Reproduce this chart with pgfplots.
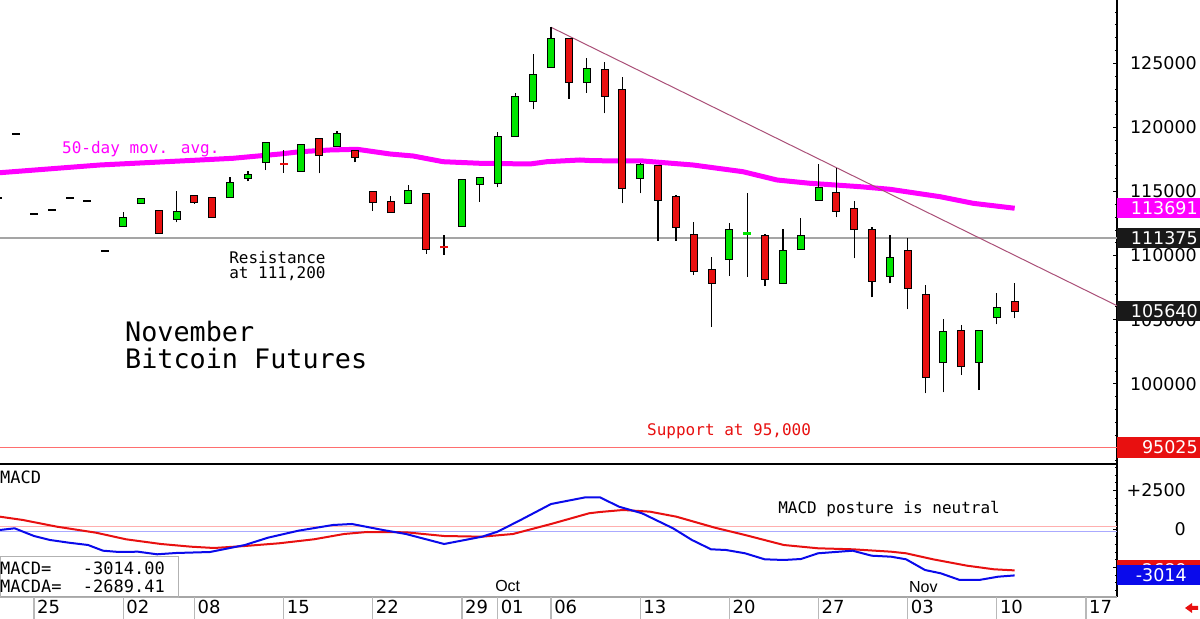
\documentclass[border=0pt]{standalone}
\usepackage{pgfplots}
\pgfplotsset{compat=1.18}
\usepackage{pgfplotstable}
\usepackage{fontspec}
\setmainfont{DejaVu Sans}
\newfontfamily\mono{DejaVu Sans Mono}
\newfontfamily\lib{Liberation Sans}
\definecolor{cgreen}{RGB}{0,228,0}
\definecolor{cred}{RGB}{232,16,16}
\definecolor{cmag}{RGB}{255,0,255}
\definecolor{ctrend}{RGB}{170,80,120}
\definecolor{cblue}{RGB}{10,10,235}
\definecolor{csup}{RGB}{255,110,110}
\definecolor{cres}{RGB}{165,165,165}
\definecolor{cboxblack}{RGB}{25,25,25}

% flat days (open=high=low=close)
\pgfplotstableread{
i v
-2 114514
-1 119484
0 113242
1 113554
2 114491
3 114257
4 110355
}\flattab

\pgfplotstableread{
i o h l c
5 112329 113375 112329 112954
6 114077 114389 114077 114389
8 112852 115060 112595 113375
11 114545 116106 114545 115638
12 116051 116620 115794 116308
13 117276 118860 116675 118758
15 116620 118704 116620 118626
17 118571 119718 118571 119461
21 114077 115505 114077 115037
24 112329 115895 112329 115895
25 115560 116028 114202 116028
26 115684 119617 115326 119227
27 119351 122706 119351 122347
28 122035 125702 121411 124064
29 124688 127809 124688 126872
31 123518 125437 122706 124532
34 116028 117198 114857 117065
39 109708 112517 108405 111994
42 107836 112049 107836 110332
43 110488 112907 110488 111526
44 114335 117120 114335 115247
48 108405 111604 107836 109833
51 101672 105027 99331 104059
53 101719 104114 99511 104114
54 105183 107055 104637 105908
}\greentab

\pgfplotstableread{
i o h l c
7 113500 113500 111737 111783
9 114623 114700 114046 114155
10 114514 114514 112985 112985
16 119070 119100 116418 117846
18 118181 118181 117276 117666
19 114935 114935 113500 114202
20 114202 114647 113375 113375
22 114803 114803 110122 110512
30 126872 126872 122215 123518
32 124477 125125 121099 122472
33 122917 123908 114077 115247
35 116987 116987 111159 114335
36 114545 114725 111159 112205
37 111604 112642 108483 108819
38 108873 109911 104426 107883
41 111526 111659 107625 108194
45 114904 116808 112985 113476
46 113609 114280 109786 112049
47 111994 112205 106743 108038
49 110355 111347 105807 107492
50 106923 107703 99253 100549
52 104114 104582 100681 101383
55 106400 107883 105105 105640
}\redtab

\pgfplotstableread{
i o h l c
14 117143 118236 116465 117143
23 110644 111604 110044 110644
}\dojired

\pgfplotstableread{
i o h l c
40 111737 114857 108350 111737
}\dojigreen

\pgfplotstableread{
i v
-1.91 116465
3.70 117066
9.31 117456
11.16 117589
13.8 117924
14.92 118103
16.6 118236
18.12 118291
19.97 117924
21.26 117768
22.94 117323
25.01 117198
27.82 117144
28.77 117323
30.62 117456
31.35 117401
34.16 117378
36.96 117066
39.76 116543
41.67 115896
43.52 115638
46.33 115373
48.01 115170
50.81 114593
52.66 114078
55 113691
}\matab

\pgfplotstableread{
i v
-1.91 -65
-1.09 45
0 -455
0.9 -714
1.96 -890
3.03 -1039
3.87 -1409
4.77 -1494
5.83 -1474
6.9 -1643
7.96 -1559
9.87 -1494
11.83 -1039
13.12 -565
14.83 -110
16.77 260
17.83 325
19.57 -65
20.86 -325
23.0 -974
25.13 -500
26.0 -175
27.29 584
29.0 1623
30.93 2058
31.74 2058
32.81 1448
34.1 1020
35.84 45
36.9 -714
37.97 -1318
38.81 -1364
39.88 -1578
40.98 -1968
42.05 -2013
43.02 -1948
43.97 -1578
45.91 -1409
46.98 -1734
48.07 -1799
48.91 -1968
49.97 -2663
50.85 -2877
51.92 -3312
53.0 -3312
54.07 -3098
55 -3014
}\macdtab

\pgfplotstableread{
i v
-1.91 799
-0.62 584
1.29 149
3.48 -240
5.16 -669
7.12 -974
8.81 -1149
10.1 -1234
11.83 -1104
13.74 -929
15.7 -669
17.39 -325
18.68 -195
20.86 -214
23.0 -455
25.13 -500
26.86 -325
29.0 325
31.13 1020
31.74 1104
33.03 1234
34.55 1124
36.03 799
38.19 84
39.88 -390
42.05 -1039
43.97 -1253
45.91 -1318
48.07 -1474
48.91 -1578
50.42 -1968
52.33 -2383
53.84 -2617
55 -2689
}\signaltab

\pgfplotsset{
  wick/.style={draw=none, mark=none, forget plot,
    error bars/.cd, y dir=plus, y explicit, error mark=none,
    error bar style={draw=black, line width=1.3bp}},
  body/.style={draw=none, mark=none, forget plot,
    error bars/.cd, y dir=plus, y explicit, error mark=none,
    error bar style={draw=#1, line width=8bp}},
  fillbody/.style={draw=none, mark=none, forget plot,
    error bars/.cd, y dir=plus, y explicit, error mark=none,
    error bar style={draw=#1, line width=6bp}},
}

\begin{document}
\begin{tikzpicture}
\useasboundingbox (0,0) rectangle (1200bp,619bp);
\fill[white] (0,0) rectangle (1200bp,619bp);

% ---------------- price panel ----------------
\begin{axis}[
  at={(0,155bp)}, anchor=south west, scale only axis,
  width=1117bp, height=464bp,
  xmin=-1.907, xmax=60.74, ymin=93738, ymax=129939,
  axis x line=none, xtick=\empty,
  axis y line=right, axis line style={-, black, line width=1.2bp},
  clip=false,
  ytick={95000,100000,105000,110000,115000,120000,125000},
  yticklabels={95000,100000,105000,110000,115000,120000,125000},
  minor ytick={94000,95000,...,129000},
  ytick align=inside, major tick length=4.5bp, minor tick length=2.5bp,
  tick style={black, line width=0.8bp},
  yticklabel style={anchor=east, inner sep=0pt, xshift=80bp,
    font=\fontsize{17.5bp}{20bp}\selectfont},
]
% support & resistance
\addplot[csup, line width=1.5bp, forget plot] coordinates {(-1.907,95025) (60.74,95025)};
\addplot[cres, line width=1.5bp, forget plot] coordinates {(-1.907,111375) (60.74,111375)};
% 50-day moving average
\addplot[cmag, line width=5bp, forget plot] table[x=i, y=v] {\matab};
% trend line
\addplot[ctrend, line width=1bp, forget plot] coordinates {(29,127809) (60.74,106089)};

% wicks
\addplot[wick] table[x=i, y=l, y error plus expr=\thisrow{h}-\thisrow{l}] {\greentab};
\addplot[wick] table[x=i, y=l, y error plus expr=\thisrow{h}-\thisrow{l}] {\redtab};
\addplot[wick] table[x=i, y=l, y error plus expr=\thisrow{h}-\thisrow{l}] {\dojired};
\addplot[wick] table[x=i, y=l, y error plus expr=\thisrow{h}-\thisrow{l}] {\dojigreen};
% flat days
\addplot[body=black] table[x=i, y expr=\thisrow{v}-70, y error plus expr=140] {\flattab};
% bodies
\addplot[body=black] table[x=i, y expr=\thisrow{o}-70, y error plus expr=\thisrow{c}-\thisrow{o}+140] {\greentab};
\addplot[fillbody=cgreen] table[x=i, y=o, y error plus expr=\thisrow{c}-\thisrow{o}] {\greentab};
\addplot[body=black] table[x=i, y expr=\thisrow{c}-70, y error plus expr=\thisrow{o}-\thisrow{c}+140] {\redtab};
\addplot[fillbody=cred] table[x=i, y=c, y error plus expr=\thisrow{o}-\thisrow{c}] {\redtab};
% dojis
\addplot[body=cred] table[x=i, y expr=\thisrow{c}-80, y error plus expr=160] {\dojired};
\addplot[body=cgreen] table[x=i, y expr=\thisrow{c}-110, y error plus expr=220] {\dojigreen};

% annotations
\node[anchor=base west, inner sep=0pt, text=cmag, font=\mono\fontsize{16bp}{18bp}\selectfont] at (axis cs:1.57,117939) {50-day mov. avg.};
\node[anchor=base west, inner sep=0pt, font=\mono\fontsize{16bp}{18bp}\selectfont] at (axis cs:10.94,109357) {Resistance};
\node[anchor=base west, inner sep=0pt, font=\mono\fontsize{16bp}{18bp}\selectfont] at (axis cs:10.94,108187) {at 111,200};
\node[anchor=base west, inner sep=0pt, font=\mono\fontsize{26.8bp}{30bp}\selectfont] at (axis cs:5.10,103271) {November};
\node[anchor=base west, inner sep=0pt, font=\mono\fontsize{26.8bp}{30bp}\selectfont] at (axis cs:5.10,101204) {Bitcoin Futures};
\node[anchor=base west, inner sep=0pt, text=cred, font=\mono\fontsize{16bp}{18bp}\selectfont] at (axis cs:34.38,95937) {Support at 95,000};

% right-hand value boxes
\node[anchor=west, inner sep=0pt, minimum height=20bp, minimum width=83bp, text width=78bp, align=right, fill=cmag, text=white, font=\fontsize{17.5bp}{20bp}\selectfont] at (axis cs:60.74,113691) {113691};
\node[anchor=west, inner sep=0pt, minimum height=20bp, minimum width=83bp, text width=78bp, align=right, fill=cboxblack, text=white, font=\fontsize{17.5bp}{20bp}\selectfont] at (axis cs:60.74,111375) {111375};
\node[anchor=west, inner sep=0pt, minimum height=20bp, minimum width=83bp, text width=78bp, align=right, fill=cboxblack, text=white, font=\fontsize{17.5bp}{20bp}\selectfont] at (axis cs:60.74,105640) {105640};
\node[anchor=west, inner sep=0pt, minimum height=21bp, minimum width=83bp, text width=78bp, align=right, fill=cred, text=white, font=\fontsize{17.5bp}{20bp}\selectfont] at (axis cs:60.74,95025) {95025};
\end{axis}

% ---------------- MACD panel ----------------
\begin{axis}[
  at={(0,22bp)}, anchor=south west, scale only axis,
  width=1117bp, height=133bp,
  xmin=-1.907, xmax=60.74, ymin=-4416, ymax=4221,
  axis x line=none, xtick=\empty,
  axis y line=right, axis line style={-, black, line width=1.2bp},
  clip=false,
  ytick={-2500,0,2500}, yticklabels={-2500,0,+2500},
  minor ytick={-4000,-3500,...,4000},
  ytick align=inside, major tick length=4.5bp, minor tick length=2.5bp,
  tick style={black, line width=0.8bp},
  yticklabel style={anchor=east, inner sep=0pt, xshift=69bp,
    font=\fontsize{17.5bp}{20bp}\selectfont},
]
\addplot[color={rgb,255:red,255;green,175;blue,175}, line width=0.8bp, forget plot] coordinates {(-1.907,150) (60.74,150)};
\addplot[color={rgb,255:red,170;green,170;blue,255}, line width=0.8bp, forget plot] coordinates {(-1.907,-175) (60.74,-175)};
\addplot[cred, line width=2bp, forget plot] table[x=i, y=v] {\signaltab};
\addplot[cblue, line width=2bp, forget plot] table[x=i, y=v] {\macdtab};

\draw[black, line width=2bp] (rel axis cs:0,1) -- (rel axis cs:1,1);
\draw[gray!70, line width=1.2bp] (rel axis cs:0,0) -- (rel axis cs:1,0);

\node[anchor=base west, inner sep=0pt, font=\mono\fontsize{17bp}{19bp}\selectfont] at (axis cs:-1.907,2974) {MACD};
\node[anchor=base west, inner sep=0pt, font=\mono\fontsize{16bp}{18bp}\selectfont] at (axis cs:41.73,987) {MACD posture is neutral};
\draw[gray!60, line width=1bp] (axis cs:-1.907,-1818) rectangle (axis cs:8.08,-4416);
\node[anchor=base west, inner sep=0pt, font=\mono\fontsize{17bp}{19bp}\selectfont] at (axis cs:-1.907,-2955) {MACD=};
\node[anchor=base east, inner sep=0pt, font=\mono\fontsize{17bp}{19bp}\selectfont] at (axis cs:7.35,-2955) {-3014.00};
\node[anchor=base west, inner sep=0pt, font=\mono\fontsize{17bp}{19bp}\selectfont] at (axis cs:-1.907,-4150) {MACDA=};
\node[anchor=base east, inner sep=0pt, font=\mono\fontsize{17bp}{19bp}\selectfont] at (axis cs:7.35,-4150) {-2689.41};
\node[anchor=base west, inner sep=0pt, font=\lib\fontsize{16bp}{18bp}\selectfont] at (axis cs:25.86,-4091) {Oct};
\node[anchor=base west, inner sep=0pt, font=\lib\fontsize{16bp}{18bp}\selectfont] at (axis cs:49.07,-4156) {Nov};

\node[anchor=west, inner sep=0pt, minimum height=20bp, minimum width=83bp, text width=56bp, align=right, fill=cred, text=white, font=\fontsize{17.5bp}{20bp}\selectfont] at (axis cs:60.74,-2689) {-2689};
\node[anchor=west, inner sep=0pt, minimum height=20bp, minimum width=83bp, text width=56bp, align=right, fill=cblue, text=white, font=\fontsize{17.5bp}{20bp}\selectfont] at (axis cs:60.74,-3014) {-3014};
\end{axis}

% ---------------- date row ----------------
\begin{axis}[
  at={(0,0)}, anchor=south west, scale only axis,
  width=1117bp, height=22bp,
  xmin=-1.907, xmax=60.74, ymin=0, ymax=1,
  axis line style={draw=none}, ytick=\empty,
  xtick={0,5,9,14,19,24,26,29,34,39,44,49,54,59},
  xticklabels={25,02,08,15,22,29,01,06,13,20,27,03,10,17},
  xmajorgrids, major grid style={draw=gray!55, line width=1.2bp},
  major tick length=0pt,
  xticklabel style={anchor=south west, inner sep=0pt, xshift=3bp, yshift=5bp,
    font=\fontsize{18bp}{20bp}\selectfont},
]
\addplot[draw=none, forget plot] coordinates {(0,0.5)};
\end{axis}

\fill[cred] (1185bp,11bp) -- (1192bp,16bp) -- (1192bp,13bp) -- (1198bp,13bp) -- (1198bp,9bp) -- (1192bp,9bp) -- (1192bp,6bp) -- cycle;
\end{tikzpicture}
\end{document}
